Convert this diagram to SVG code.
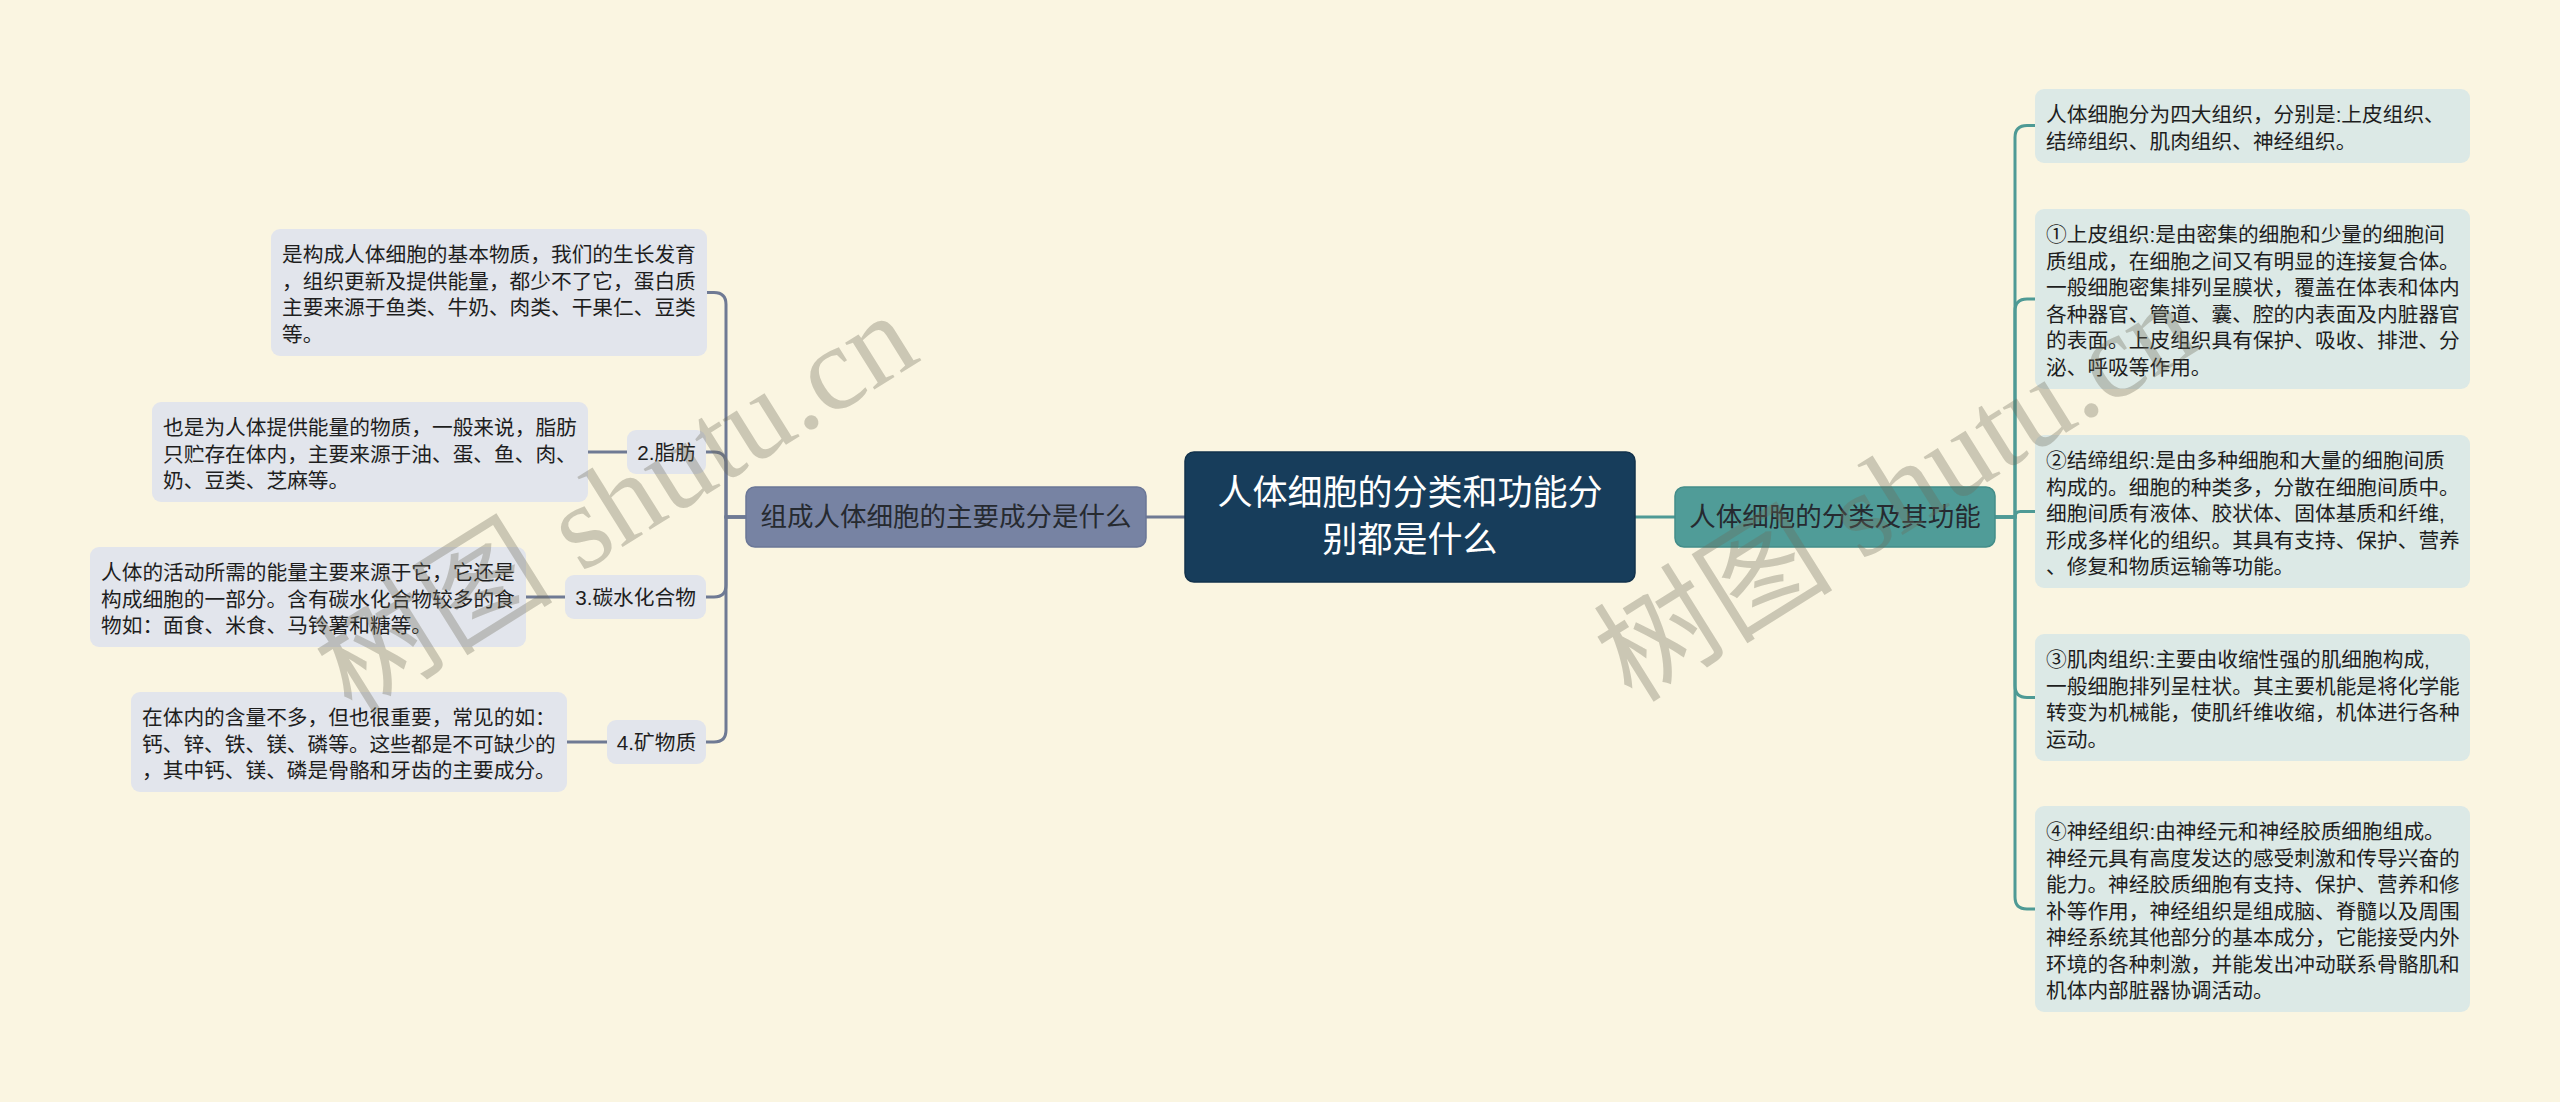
<svg xmlns="http://www.w3.org/2000/svg" width="2560" height="1102" viewBox="0 0 2560 1102">
<style>
text{font-family:"Liberation Sans","Noto Sans CJK SC",sans-serif;}
.bg{fill:#faf5e1;}
.root rect{fill:#173d5b;stroke:#12324c;stroke-width:1.5;}
.root text{fill:#ffffff;font-size:35px;text-anchor:middle;}
.mainL rect{fill:#7783a3;stroke:#6b7797;stroke-width:1.5;}
.mainR rect{fill:#509c98;stroke:#438d89;stroke-width:1.5;}
.main text{fill:#262a30;font-size:26.5px;text-anchor:middle;}
.descL rect,.lbl rect{fill:#e2e5ec;}
.descR rect{fill:#dce9e6;}
.desc text,.lbl text{fill:#1e1e1e;font-size:20.7px;}
.lbl text{text-anchor:middle;}
.cL{fill:none;stroke:#6f7a94;stroke-width:3;}
.cR{fill:none;stroke:#4e9a95;stroke-width:3;}
.wm{font-family:"Liberation Serif","Noto Sans CJK SC",serif;font-size:120px;fill:#6d6a58;fill-opacity:0.33;}
</style>
<rect class="bg" x="0" y="0" width="2560" height="1102"/>

<g id="connectors">
  <path class="cL" d="M1146,517 H1185"/>
  <path class="cR" d="M1635,517 H1675"/>
  <path class="cL" d="M746,517 H726 V304.5 Q726,292.5 714,292.5 H707"/>
  <path class="cL" d="M746,517 H726 V464 Q726,452 714,452 H706"/>
  <path class="cL" d="M746,517 H726 V585 Q726,597 714,597 H706"/>
  <path class="cL" d="M746,517 H726 V730 Q726,742 714,742 H706"/>
  <path class="cL" d="M627,452 H588"/>
  <path class="cL" d="M565,597 H526"/>
  <path class="cL" d="M607,742 H567"/>
  <path class="cR" d="M1995,517 H2015 V137.5 Q2015,125.5 2027,125.5 H2035"/>
  <path class="cR" d="M1995,517 H2015 V311 Q2015,299 2027,299 H2035"/>
  <path class="cR" d="M1995,517 H2015 Q2015,511.5 2020.5,511.5 H2035"/>
  <path class="cR" d="M1995,517 H2015 V685.5 Q2015,697.5 2027,697.5 H2035"/>
  <path class="cR" d="M1995,517 H2015 V897 Q2015,909 2027,909 H2035"/>
</g>

<g id="root" class="root">
  <rect x="1185" y="452" width="450" height="130" rx="9"/>
  <text x="1410" y="505">人体细胞的分类和功能分</text>
  <text x="1410" y="552">别都是什么</text>
</g>

<g id="main-left" class="main mainL">
  <rect x="746" y="487" width="400" height="60" rx="9"/>
  <text x="946" y="526">组成人体细胞的主要成分是什么</text>
</g>

<g id="main-right" class="main mainR">
  <rect x="1675" y="487" width="320" height="60" rx="9"/>
  <text x="1835" y="526">人体细胞的分类及其功能</text>
</g>

<g id="protein" class="desc descL">
  <rect x="271" y="229" width="436" height="127" rx="9"/>
  <text x="282" y="262">是构成人体细胞的基本物质，我们的生长发育</text>
  <text x="282" y="288.5">，组织更新及提供能量，都少不了它，蛋白质</text>
  <text x="282" y="315">主要来源于鱼类、牛奶、肉类、干果仁、豆类</text>
  <text x="282" y="341.5">等。</text>
</g>

<g id="fat-label" class="lbl">
  <rect x="627" y="430" width="79" height="44" rx="9"/>
  <text x="666.5" y="459.5">2.脂肪</text>
</g>
<g id="fat" class="desc descL">
  <rect x="152" y="402" width="436" height="100" rx="9"/>
  <text x="163" y="435">也是为人体提供能量的物质，一般来说，脂肪</text>
  <text x="163" y="461.5">只贮存在体内，主要来源于油、蛋、鱼、肉、</text>
  <text x="163" y="488">奶、豆类、芝麻等。</text>
</g>

<g id="carb-label" class="lbl">
  <rect x="565" y="575" width="141" height="44" rx="9"/>
  <text x="635.5" y="604.5">3.碳水化合物</text>
</g>
<g id="carb" class="desc descL">
  <rect x="90" y="547" width="436" height="100" rx="9"/>
  <text x="101" y="580">人体的活动所需的能量主要来源于它，它还是</text>
  <text x="101" y="606.5">构成细胞的一部分。含有碳水化合物较多的食</text>
  <text x="101" y="633">物如：面食、米食、马铃薯和糖等。</text>
</g>

<g id="mineral-label" class="lbl">
  <rect x="607" y="720" width="99" height="44" rx="9"/>
  <text x="656.5" y="749.5">4.矿物质</text>
</g>
<g id="mineral" class="desc descL">
  <rect x="131" y="692" width="436" height="100" rx="9"/>
  <text x="142" y="725">在体内的含量不多，但也很重要，常见的如：</text>
  <text x="142" y="751.5">钙、锌、铁、镁、磷等。这些都是不可缺少的</text>
  <text x="142" y="778">，其中钙、镁、磷是骨骼和牙齿的主要成分。</text>
</g>

<g id="tissues" class="desc descR">
  <rect x="2035" y="89" width="435" height="74" rx="9"/>
  <text x="2046" y="122">人体细胞分为四大组织，分别是:上皮组织、</text>
  <text x="2046" y="148.5">结缔组织、肌肉组织、神经组织。</text>
</g>

<g id="epithelial" class="desc descR">
  <rect x="2035" y="209" width="435" height="180" rx="9"/>
  <text x="2046" y="242">①上皮组织:是由密集的细胞和少量的细胞间</text>
  <text x="2046" y="268.5">质组成，在细胞之间又有明显的连接复合体。</text>
  <text x="2046" y="295">一般细胞密集排列呈膜状，覆盖在体表和体内</text>
  <text x="2046" y="321.5">各种器官、管道、囊、腔的内表面及内脏器官</text>
  <text x="2046" y="348">的表面。上皮组织具有保护、吸收、排泄、分</text>
  <text x="2046" y="374.5">泌、呼吸等作用。</text>
</g>

<g id="connective" class="desc descR">
  <rect x="2035" y="435" width="435" height="153" rx="9"/>
  <text x="2046" y="468">②结缔组织:是由多种细胞和大量的细胞间质</text>
  <text x="2046" y="494.5">构成的。细胞的种类多，分散在细胞间质中。</text>
  <text x="2046" y="521">细胞间质有液体、胶状体、固体基质和纤维,</text>
  <text x="2046" y="547.5">形成多样化的组织。其具有支持、保护、营养</text>
  <text x="2046" y="574">、修复和物质运输等功能。</text>
</g>

<g id="muscle" class="desc descR">
  <rect x="2035" y="634" width="435" height="127" rx="9"/>
  <text x="2046" y="667">③肌肉组织:主要由收缩性强的肌细胞构成,</text>
  <text x="2046" y="693.5">一般细胞排列呈柱状。其主要机能是将化学能</text>
  <text x="2046" y="720">转变为机械能，使肌纤维收缩，机体进行各种</text>
  <text x="2046" y="746.5">运动。</text>
</g>

<g id="nerve" class="desc descR">
  <rect x="2035" y="806" width="435" height="206" rx="9"/>
  <text x="2046" y="839">④神经组织:由神经元和神经胶质细胞组成。</text>
  <text x="2046" y="865.5">神经元具有高度发达的感受刺激和传导兴奋的</text>
  <text x="2046" y="892">能力。神经胶质细胞有支持、保护、营养和修</text>
  <text x="2046" y="918.5">补等作用，神经组织是组成脑、脊髓以及周围</text>
  <text x="2046" y="945">神经系统其他部分的基本成分，它能接受内外</text>
  <text x="2046" y="971.5">环境的各种刺激，并能发出冲动联系骨骼肌和</text>
  <text x="2046" y="998">机体内部脏器协调活动。</text>
</g>

<g id="watermarks">
  <text class="wm" transform="translate(352,716) rotate(-32)">树图 shutu.cn</text>
  <text class="wm" transform="translate(1632,704) rotate(-32)">树图 shutu.cn</text>
</g>
</svg>
